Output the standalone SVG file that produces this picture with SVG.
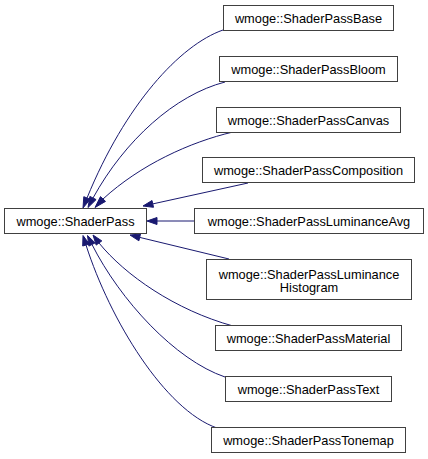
<svg xmlns="http://www.w3.org/2000/svg" width="428" height="459" viewBox="0 0 428 459">
<style>
.n rect{fill:#fff;stroke:#404040;stroke-width:1}
.n text{font-family:"Liberation Sans",Arial,sans-serif;font-size:12.8px;fill:#000;text-anchor:middle}
.e path{fill:none;stroke:#191970;stroke-width:1}
.e polygon{fill:#191970;stroke:#191970;stroke-width:1}
</style>
<rect width="428" height="459" fill="#fff"/>
<g id="edges" class="e">
<path d="M223,30 C180,45 125,105 87,198"/>
<polygon points="90.2,199.3 83,208 83.8,196.7"/>
<path d="M225,82 C175,95 125,140 93,198"/>
<polygon points="96.1,199.6 88,207.5 89.9,196.4"/>
<path d="M233,132 C190,142 140,165 103,199"/>
<polygon points="105.5,201.4 95,207.5 100.5,196.6"/>
<path d="M248,183 L152.8,203.9"/>
<polygon points="153.5,207.3 143,206 152,200.5"/>
<path d="M194,221 L157,221"/>
<polygon points="157,224.5 147,221 157,217.5"/>
<path d="M229,259 L139.7,237.4"/>
<polygon points="138.9,240.8 130,235 140.5,234"/>
<path d="M233,326 C175,310 125,275 99,243"/>
<polygon points="101.8,240.9 93,235 96.2,245.1"/>
<path d="M225,377 C175,360 120,300 92,244.5"/>
<polygon points="95.1,242.9 87.5,235.5 88.9,246.1"/>
<path d="M217,428 C165,410 110,320 86,245"/>
<polygon points="89.3,244 83,235.5 82.7,246"/>
</g>
<g id="ShaderPass" class="n"><rect x="4.5" y="208.5" width="142" height="25"/><text x="75.5" y="225.5">wmoge::ShaderPass</text></g>
<g id="ShaderPassBase" class="n"><rect x="223.5" y="5.5" width="170" height="25"/><text x="308.5" y="22.5">wmoge::ShaderPassBase</text></g>
<g id="ShaderPassBloom" class="n"><rect x="219.5" y="56.5" width="178" height="25"/><text x="308.5" y="73.5">wmoge::ShaderPassBloom</text></g>
<g id="ShaderPassCanvas" class="n"><rect x="216.5" y="107.5" width="184" height="25"/><text x="308.5" y="124.5">wmoge::ShaderPassCanvas</text></g>
<g id="ShaderPassComposition" class="n"><rect x="202.5" y="157.5" width="212" height="25"/><text x="308.5" y="174.5">wmoge::ShaderPassComposition</text></g>
<g id="ShaderPassLuminanceAvg" class="n"><rect x="194.5" y="208.5" width="229" height="25"/><text x="309" y="225.5">wmoge::ShaderPassLuminanceAvg</text></g>
<g id="ShaderPassLuminanceHistogram" class="n"><rect x="206.5" y="259.5" width="205" height="40"/><text x="309" y="278.5">wmoge::ShaderPassLuminance</text><text x="309" y="292">Histogram</text></g>
<g id="ShaderPassMaterial" class="n"><rect x="215.5" y="325.5" width="186" height="25"/><text x="308.5" y="342.5">wmoge::ShaderPassMaterial</text></g>
<g id="ShaderPassText" class="n"><rect x="225.5" y="376.5" width="166" height="25"/><text x="308.5" y="393.5">wmoge::ShaderPassText</text></g>
<g id="ShaderPassTonemap" class="n"><rect x="211.5" y="427.5" width="194" height="25"/><text x="308.5" y="444.5">wmoge::ShaderPassTonemap</text></g>
</svg>
